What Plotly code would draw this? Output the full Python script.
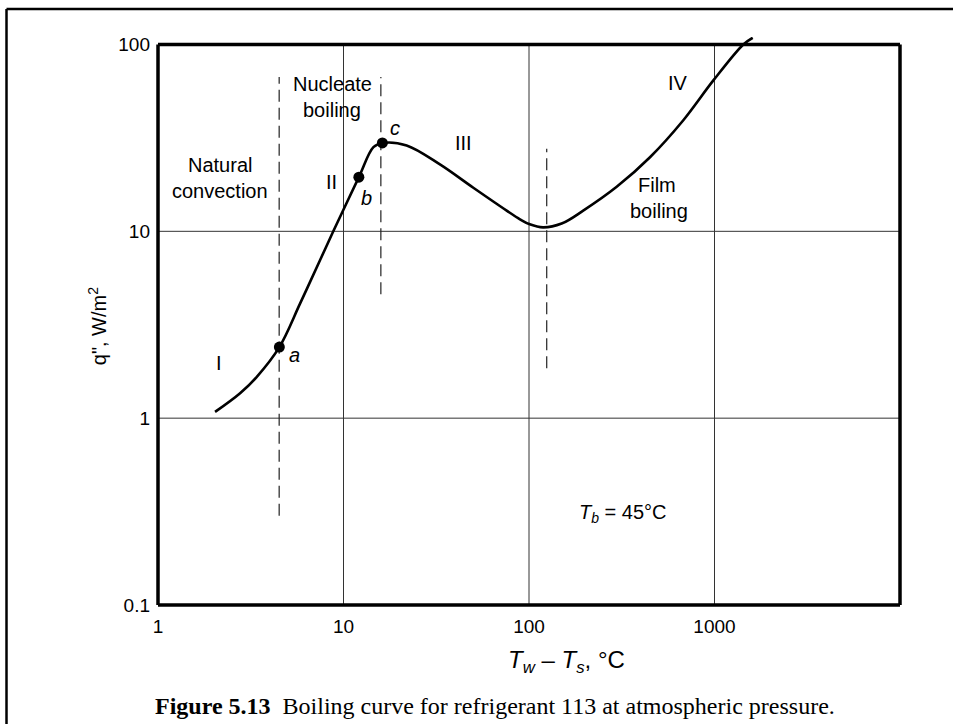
import numpy as np
import plotly.graph_objects as go

# ---- data ----
curve_x = [2.03, 2.77, 3.40, 4.51, 5.83, 7.47, 8.81, 12.1, 14.5, 16.2, 21.9, 33.1, 50.1, 75.8,
           89.4, 101, 119, 150, 196, 297, 449, 679, 986, 1430, 1607]
curve_y = [1.08, 1.36, 1.66, 2.40, 4.10, 7.0, 10.0, 19.5, 28.2, 29.7, 28.8, 22.8, 17.1, 12.9,
           11.6, 10.9, 10.5, 11.0, 12.9, 17.3, 24.9, 39.3, 64.2, 100, 108.6]

point_names = ["a", "b", "c"]
point_x = [4.51, 12.1, 16.2]
point_y = [2.40, 19.5, 29.7]

dash_x = [4.5, 15.9, 124.6]
dash_y_low = [0.30, 4.6, 1.85]
dash_y_high = [67, 67, 27.7]

grid_x = [10, 100, 1000]
grid_y = [1, 10]
x_lim = [1, 10000]
y_lim = [0.1, 100]

x_tickvals = [1, 10, 100, 1000]
x_ticktext = ["1", "10", "100", "1000"]
y_tickvals = [0.1, 1, 10, 100]
y_ticktext = ["0.1", "1", "10", "100"]

# ---- layout geometry ----
W, H = 953, 724
ML, MR, MB = 158, 53, 119
YR = [-1, 2.04]
plot_w = W - ML - MR
plot_h = H - MB - 36.5
MT = H - MB - plot_h


def px(xp, yp):
    return (xp - ML) / plot_w, (H - MB - yp) / plot_h


SANS = "Liberation Sans, Arial, sans-serif"
SERIF = "Liberation Serif, Times New Roman, serif"

fig = go.Figure()

# grid lines (kept inside the frame)
for gx in grid_x:
    fig.add_trace(go.Scatter(x=[gx, gx], y=y_lim, mode="lines",
                             line=dict(color="#333333", width=1),
                             hoverinfo="skip", showlegend=False))
for gy in grid_y:
    fig.add_trace(go.Scatter(x=x_lim, y=[gy, gy], mode="lines",
                             line=dict(color="#333333", width=1),
                             hoverinfo="skip", showlegend=False))

# dashed region separators
for xv, lo, hi in zip(dash_x, dash_y_low, dash_y_high):
    fig.add_trace(go.Scatter(x=[xv, xv], y=[lo, hi], mode="lines",
                             line=dict(color="#222222", width=1.2, dash="12px,6px"),
                             hoverinfo="skip", showlegend=False))

# boiling curve
fig.add_trace(go.Scatter(x=curve_x, y=curve_y, mode="lines",
                         line=dict(color="black", width=2.6, shape="spline", smoothing=1.0),
                         showlegend=False))

# points a, b, c
fig.add_trace(go.Scatter(x=point_x, y=point_y, mode="markers",
                         marker=dict(color="black", size=11), text=point_names,
                         showlegend=False))

annotations = []


def label(text, xp, yp, size=20, family=SANS, **kw):
    x, y = px(xp, yp)
    annotations.append(dict(text=text, x=x, y=y, xref="paper", yref="paper",
                            showarrow=False, xanchor="center", yanchor="middle",
                            font=dict(size=size, family=family, color="black"), **kw))


label("Nucleate", 332, 84)
label("boiling", 332, 110)
label("Natural", 220, 165)
label("convection", 220, 191)
label("II", 331, 182)
label("<i>b</i>", 366, 198)
label("<i>c</i>", 395, 128)
label("III", 463, 143)
label("IV", 678, 83)
label("Film", 657, 185)
label("boiling", 659, 211)
label("I", 219, 363)
label("<i>a</i>", 294, 355)
label("<i>T</i><sub><i>b</i></sub> = 45°C", 623, 513)
label("<i>T</i><sub><i>w</i></sub> – <i>T</i><sub><i>s</i></sub>, °C", 566, 662, size=24)
label("q\", W/m<sup>2</sup>", 97, 326, textangle=-90)
label("<b>Figure 5.13</b>  Boiling curve for refrigerant 113 at atmospheric pressure.",
      495, 706, size=24, family=SERIF)

top_dom = (2 - YR[0]) / (YR[1] - YR[0])
shapes = [
    # plot frame
    dict(type="line", xref="x domain", yref="y domain", x0=0, x1=1, y0=top_dom, y1=top_dom,
         line=dict(color="black", width=3.5)),
    dict(type="line", xref="x domain", yref="y domain", x0=0, x1=1, y0=0, y1=0,
         line=dict(color="black", width=3.5)),
    dict(type="line", xref="x domain", yref="y domain", x0=0, x1=0, y0=0, y1=top_dom,
         line=dict(color="black", width=3.5)),
    dict(type="line", xref="x domain", yref="y domain", x0=1, x1=1, y0=0, y1=top_dom,
         line=dict(color="black", width=3.5)),
]
# outer figure frame
x0p, y0p = px(6.5, 8.5)
x1p, y1p = px(1000, 780)
shapes += [
    dict(type="line", xref="paper", yref="paper", x0=x0p, x1=x1p, y0=y0p, y1=y0p,
         line=dict(color="black", width=2.5)),
    dict(type="line", xref="paper", yref="paper", x0=x0p, x1=x0p, y0=y0p, y1=y1p,
         line=dict(color="black", width=2.5)),
]

fig.update_layout(
    width=W, height=H,
    margin=dict(l=ML, r=MR, t=MT, b=MB),
    paper_bgcolor="white", plot_bgcolor="white",
    showlegend=False,
    annotations=annotations,
    shapes=shapes,
    font=dict(family=SANS, color="black", size=19),
)
fig.update_xaxes(type="log", range=[0, 4], tickvals=x_tickvals, ticktext=x_ticktext,
                 showgrid=False, zeroline=False,
                 showline=False, ticks="", ticklabelstandoff=8,
                 tickfont=dict(size=19, family=SANS, color="black"))
fig.update_yaxes(type="log", range=YR, tickvals=y_tickvals, ticktext=y_ticktext,
                 showgrid=False, zeroline=False,
                 showline=False, ticks="", ticklabelstandoff=7,
                 tickfont=dict(size=19, family=SANS, color="black"))

fig.write_html("out.html", config={"displayModeBar": False},
               post_script="document.body.style.margin='0px';")
